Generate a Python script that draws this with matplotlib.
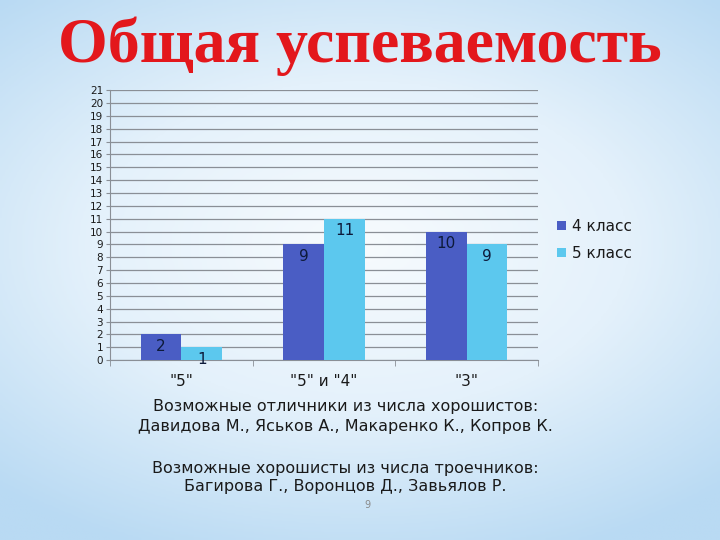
import numpy as np
import matplotlib
matplotlib.use("Agg")
import matplotlib.pyplot as plt
from matplotlib.patches import Patch

# ── Data ──
categories = ['"5"', '"5" и "4"', '"3"']
series_names = ["4 класс", "5 класс"]
class4 = [2, 9, 10]
class5 = [1, 11, 9]
yticks = list(range(0, 22))

TITLE = "Общая успеваемость"
NOTE1 = "Возможные отличники из числа хорошистов:\nДавидова М., Яськов А., Макаренко К., Копров К."
NOTE2 = "Возможные хорошисты из числа троечников:\nБагирова Г., Воронцов Д., Завьялов Р."

C4 = "#4A5DC4"
C5 = "#5CC8EE"
TXT = "#1a1a1a"
GRID = "#8a8f96"

fig = plt.figure(figsize=(7.2, 5.4), dpi=100)

# background gradient: light blue edges, nearly white centre
bg = fig.add_axes([0, 0, 1, 1], zorder=0)
yy, xx = np.mgrid[-1:1:200j, -1:1:260j]
r = np.sqrt((xx * 0.9) ** 2 + (yy * 1.1 + 0.1) ** 2)
bg.imshow(r, cmap=matplotlib.colors.LinearSegmentedColormap.from_list(
    "bg", ["#f7fbfe", "#e4f1fb", "#b9daf3"]), vmin=0, vmax=1.35,
    extent=[0, 1, 0, 1], aspect="auto")
bg.axis("off")

ax = fig.add_axes([0.153, 0.333, 0.594, 0.5], zorder=1)
ax.patch.set_alpha(0)

x = np.arange(len(categories))
w = 0.287
b4 = ax.bar(x - w / 2, class4, width=w, color=C4, zorder=3)
b5 = ax.bar(x + w / 2, class5, width=w, color=C5, zorder=3)

for bars in (b4, b5):
    for rect in bars:
        h = rect.get_height()
        ax.text(rect.get_x() + rect.get_width() / 2, h - 0.35, f"{int(h)}",
                ha="center", va="top", fontsize=11, color="#0d1a3a", zorder=4,
                family="DejaVu Sans")

ax.set_xlim(-0.5, len(categories) - 0.5)
ax.set_ylim(0, 21)
ax.set_yticks(yticks)
ax.set_yticklabels([str(v) for v in yticks], fontsize=7.5, color=TXT)
ax.tick_params(axis="y", length=3, width=0.8, color=GRID, pad=2)
ax.grid(axis="y", color=GRID, linewidth=0.9, zorder=1)

ax.set_xticks(x)
ax.set_xticklabels(categories, fontsize=11, color=TXT)
ax.set_xticks(np.arange(len(categories) + 1) - 0.5, minor=True)
ax.tick_params(axis="x", which="major", length=0, pad=10)
ax.tick_params(axis="x", which="minor", length=4, color=GRID, direction="out")

for s in ("top", "right"):
    ax.spines[s].set_visible(False)
ax.spines["left"].set_color(GRID)
ax.spines["bottom"].set_color(GRID)

fig.legend(handles=[Patch(facecolor=C4, label=series_names[0]),
                    Patch(facecolor=C5, label=series_names[1])],
           loc="upper left", bbox_to_anchor=(0.755, 0.62), frameon=False,
           fontsize=11, handlelength=0.55, handleheight=0.55,
           handletextpad=0.4, labelspacing=0.8, labelcolor=TXT)

fig.text(0.5, 0.915, TITLE, ha="center", va="center", fontsize=46,
         fontweight="bold", color="#e3171c", family="Liberation Serif")

fig.text(0.48, 0.229, NOTE1, ha="center", va="center", fontsize=11.5,
         color=TXT, linespacing=1.45)
fig.text(0.48, 0.116, NOTE2, ha="center", va="center", fontsize=11.5,
         color=TXT, linespacing=1.3)
fig.text(0.511, 0.064, "9", ha="center", va="center", fontsize=7,
         color="#8a8a8a")

fig.savefig("out.png", dpi=100)
